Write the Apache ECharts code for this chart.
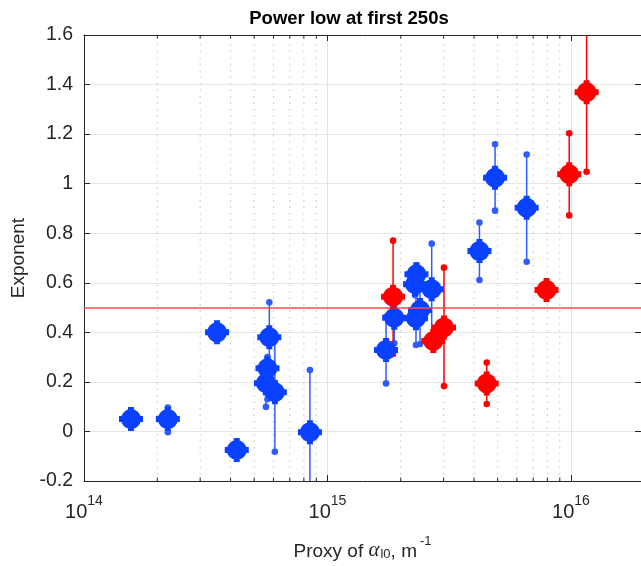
<!DOCTYPE html>
<html>
<head>
<meta charset="utf-8">
<script src="https://cdn.jsdelivr.net/npm/echarts@6/dist/echarts.min.js"></script>
<style>html,body{margin:0;padding:0;background:#fff}#c{width:641px;height:566px}</style>
</head>
<body>
<div id="c"></div>
<script>
// ---- data ----
const blueX    = [1.56e14, 2.21e14, 3.52e14, 4.24e14, 5.77e14, 5.67e14, 5.59e14, 6.08e14, 8.47e14, 1.74e15, 1.88e15, 2.32e15, 2.29e15, 2.31e15, 2.40e15, 2.68e15, 4.21e15, 4.88e15, 6.58e15];
const blueY    = [0.05, 0.05, 0.40, -0.075, 0.38, 0.255, 0.195, 0.158, -0.003, 0.329, 0.459, 0.634, 0.594, 0.457, 0.49, 0.574, 0.728, 1.024, 0.903];
const blueLow  = [0.05, -0.003, 0.40, -0.075, 0.27, 0.13, 0.099, -0.082, -0.26, 0.194, 0.356, 0.60, 0.55, 0.349, 0.353, 0.39, 0.611, 0.891, 0.685];
const blueHigh = [0.05, 0.096, 0.40, -0.075, 0.521, 0.30, 0.27, 0.37, 0.248, 0.463, 0.49, 0.67, 0.63, 0.56, 0.60, 0.758, 0.843, 1.159, 1.118];

const redX    = [1.86e15, 2.72e15, 3.01e15, 4.51e15, 7.94e15, 9.84e15, 1.16e16];
const redY    = [0.544, 0.365, 0.42, 0.194, 0.571, 1.038, 1.369];
const redLow  = [0.313, 0.34, 0.183, 0.111, 0.571, 0.872, 1.048];
const redHigh = [0.770, 0.39, 0.661, 0.278, 0.571, 1.203, 1.75];

const refLine = 0.5;
const xMin = 1e14, xMax = 1.94e16;
const yMin = -0.2, yMax = 1.6, yStep = 0.2;
const decades = [14, 15, 16];
const minorMult = [2, 3, 4, 5, 6, 7, 8, 9];

// ---- styles ----
const BLUE = '#0a40ff', BLUE_BAR = '#2f5cff', RED = '#ff0000', AX = '#262626';
const MARKER = 'path://M9,0 L15,0 L15,9 L24,9 L24,15 L15,15 L15,24 L9,24 L9,15 L0,15 L0,9 L9,9 Z M2,12 A10,10 0 1 1 22,12 A10,10 0 1 1 2,12 Z';

const minorVals = [];
decades.forEach(d => minorMult.forEach(m => { const v = m * Math.pow(10, d); if (v < xMax) minorVals.push([v, 0]); }));

function zip(x, a, b) { return x.map((v, i) => [v, a[i], b[i]]); }

function errRender(color) {
  return function (params, api) {
    const x = api.value(0), lo = api.value(1), hi = api.value(2);
    if (lo === hi) return null;
    const p1 = api.coord([x, lo]), p2 = api.coord([x, hi]);
    return { type: 'group', children: [
      { type: 'line', shape: { x1: p1[0], y1: p1[1], x2: p2[0], y2: p2[1] }, style: { stroke: color, lineWidth: 1.5 } },
      { type: 'circle', shape: { cx: p1[0], cy: p1[1], r: 3.3 }, style: { fill: color } },
      { type: 'circle', shape: { cx: p2[0], cy: p2[1], r: 3.3 }, style: { fill: color } }
    ]};
  };
}

const chart = echarts.init(document.getElementById('c'), null, { renderer: 'canvas' });
const FONT = 'Liberation Sans, Arial, Helvetica, sans-serif';

chart.setOption({
  animation: false,
  backgroundColor: '#fff',
  title: {
    text: 'Power low at first 250s',
    left: 344, top: 4, textAlign: 'center',
    textStyle: { fontFamily: FONT, fontWeight: 'bold', fontSize: 18.5, color: '#000' }
  },
  grid: { left: 84, right: 0, top: 35, bottom: 85, containLabel: false, outerBoundsMode: 'none' },
  xAxis: [{
    type: 'log', logBase: 10, min: xMin, max: xMax,
    name: '{t|Proxy of }{a|α}{sub|l0}{t|, m}{sup|-1}',
    nameLocation: 'middle', nameGap: 54,
    nameTextStyle: {
      rich: {
        t: { fontFamily: FONT, fontSize: 19, color: AX, lineHeight: 26, verticalAlign: 'bottom' },
        a: { fontFamily: 'Liberation Serif, DejaVu Serif, serif', fontStyle: 'italic', fontSize: 21, color: AX, lineHeight: 26, verticalAlign: 'bottom' },
        sub: { fontFamily: FONT, fontSize: 13, color: AX, lineHeight: 12, verticalAlign: 'bottom', padding: [0, 0, 0, 1] },
        sup: { fontFamily: FONT, fontSize: 13, color: AX, lineHeight: 14, verticalAlign: 'top', padding: [0, 0, 0, 3] }
      }
    },
    axisLine: { show: true, onZero: false, lineStyle: { color: AX, width: 1 } },
    axisTick: { show: true, inside: true, length: 6, lineStyle: { color: AX } },
    axisLabel: {
      margin: 13,
      formatter: function (v) {
        const e = Math.log10(v), r = Math.round(e);
        if (Math.abs(e - r) > 1e-6) return '';
        return '{b|10}{s|' + r + '}';
      },
      rich: {
        b: { fontFamily: FONT, fontSize: 20, color: AX, lineHeight: 28, verticalAlign: 'bottom' },
        s: { fontFamily: FONT, fontSize: 14, color: AX, lineHeight: 14, verticalAlign: 'top' }
      }
    },
    splitLine: { show: true, lineStyle: { color: '#e3e3e3', width: 1 } }
  }, {
    type: 'log', logBase: 10, min: xMin, max: xMax, position: 'top',
    axisLine: { show: true, onZero: false, lineStyle: { color: AX, width: 1 } },
    axisTick: { show: true, inside: true, length: 6, lineStyle: { color: AX } },
    axisLabel: { show: false }, splitLine: { show: false }
  }],
  yAxis: [{
    type: 'value', min: yMin, max: yMax, interval: yStep,
    name: 'Exponent', nameLocation: 'middle', nameGap: 55, nameRotate: 90,
    nameTextStyle: { fontFamily: FONT, fontSize: 19, color: AX },
    axisLine: { show: true, onZero: false, lineStyle: { color: AX, width: 1 } },
    axisTick: { show: true, inside: true, length: 6, lineStyle: { color: AX } },
    axisLabel: { fontFamily: FONT, fontSize: 19.5, color: AX, margin: 11,
      formatter: v => String(Math.round(v * 10) / 10) },
    splitLine: { show: true, lineStyle: { color: '#e6e6e6', width: 1 } }
  }, {
    type: 'value', min: yMin, max: yMax, interval: yStep, position: 'right',
    axisLine: { show: true, onZero: false, lineStyle: { color: AX, width: 1 } },
    axisTick: { show: true, inside: true, length: 6, lineStyle: { color: AX } },
    axisLabel: { show: false }, splitLine: { show: false }
  }],
  series: [
    { // minor log grid + minor ticks
      type: 'custom', silent: true, z: 1, clip: true,
      data: minorVals, encode: { x: 0, y: 1 },
      renderItem: function (params, api) {
        const x = api.value(0);
        const b = api.coord([x, yMin]), t = api.coord([x, yMax]);
        return { type: 'group', children: [
          { type: 'line', shape: { x1: b[0], y1: b[1], x2: t[0], y2: t[1] }, style: { stroke: '#c4c4c4', lineWidth: 1, lineDash: [1.5, 5] } },
          { type: 'line', shape: { x1: b[0], y1: b[1], x2: b[0], y2: b[1] - 3.5 }, style: { stroke: AX, lineWidth: 1 } },
          { type: 'line', shape: { x1: t[0], y1: t[1], x2: t[0], y2: t[1] + 3.5 }, style: { stroke: AX, lineWidth: 1 } }
        ]};
      }
    },
    { // reference line
      type: 'line', data: [], z: 2,
      markLine: { silent: true, symbol: 'none', label: { show: false },
        lineStyle: { color: '#ff4a4a', width: 1.6, type: 'solid' },
        data: [{ yAxis: refLine }] }
    },
    { type: 'custom', z: 3, clip: true, data: zip(blueX, blueLow, blueHigh), encode: { x: 0, y: [1, 2] }, renderItem: errRender(BLUE_BAR) },
    { type: 'custom', z: 3, clip: true, data: zip(redX, redLow, redHigh), encode: { x: 0, y: [1, 2] }, renderItem: errRender(RED) },
    { type: 'scatter', z: 4, clip: true, symbol: MARKER, symbolSize: 24,
      data: blueX.map((x, i) => [x, blueY[i]]), itemStyle: { color: BLUE, opacity: 1 } },
    { type: 'scatter', z: 5, clip: true, symbol: MARKER, symbolSize: 24,
      data: redX.map((x, i) => [x, redY[i]]), itemStyle: { color: RED, opacity: 1 } }
  ]
});
</script>
</body>
</html>
